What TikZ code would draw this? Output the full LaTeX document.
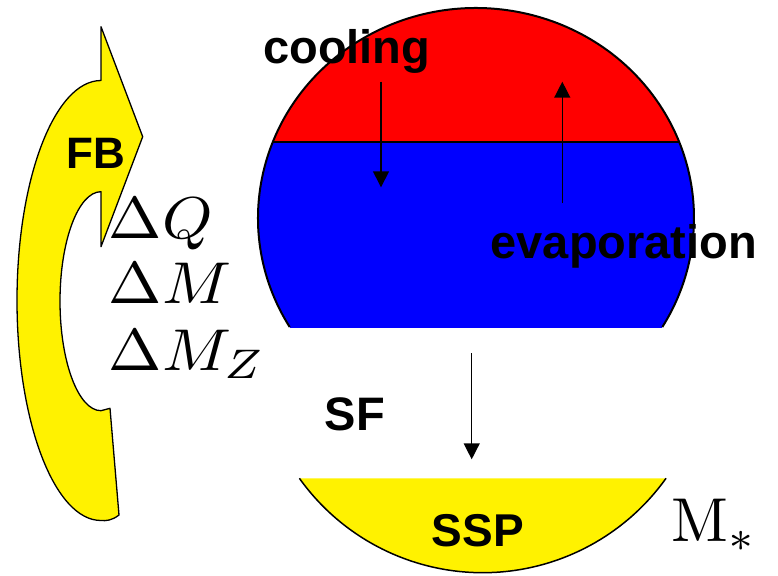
\documentclass[tikz,border=0pt]{standalone}
\usepackage{fontspec}
\usepackage{graphicx}
\newfontfamily\lsans{Liberation Sans}
\usetikzlibrary{arrows.meta}
\begin{document}
\begin{tikzpicture}[x=1pt,y=-1pt,
  lbl/.style={inner sep=0pt,anchor=base west,font=\lsans\bfseries\fontsize{47}{47}\selectfont},
  mathlbl/.style={inner sep=0pt,anchor=base west},
  flow/.style={line width=1.4pt,-{Triangle[width=16pt,length=16pt]}},
  outline/.style={line width=2pt}]
\useasboundingbox (0,0) rectangle (778,575);
% cloud: ellipse centre (476,218), rx 218, ry 210
\begin{scope}
  \clip (0,0) rectangle (778,141.7);
  \fill[red] (476,218) ellipse[x radius=218,y radius=210];
\end{scope}
\begin{scope}
  \clip (0,141.7) rectangle (778,327);
  \fill[blue] (476,218) ellipse[x radius=218,y radius=210];
\end{scope}
\draw[outline] (476,218) ++(148.73:218 and 210) arc[start angle=148.73,end angle=391.27,x radius=218,y radius=210];
\draw[outline] (272.9,141.7) -- (679.1,141.7);
% stellar population bowl
\fill[yellow] (482.7,347.5) ++(144.5:225.2) arc[start angle=144.5,end angle=35.5,radius=225.2] -- cycle;
\draw[line width=1.5pt] (482.7,347.5) ++(144.5:225.2) arc[start angle=144.5,end angle=35.5,radius=225.2];
% feedback arrow
\draw[fill=yellow,line width=1.3pt,line join=round]
  (101,26.7) -- (142.7,136.7) -- (101,246.7) -- (101,191.7)
  arc[start angle=270,end angle=90,x radius=41,y radius=109.5]
  -- (110,408.3) -- (119,515)
  .. controls (112,520.5) and (106,521) .. (101,520.5)
  arc[start angle=90,end angle=270,x radius=84,y radius=220]
  -- cycle;
% labels
\node[lbl] (cool) at (263,63.3) {cooling};
\node[lbl] (evap) at (490.5,258.3) {evaporation};
\node[lbl] (sf) at (324.5,430) {SF};
\node[lbl,font=\lsans\bfseries\fontsize{46}{46}\selectfont] (ssp) at (431.5,546) {SSP};
\node[lbl,font=\lsans\bfseries\fontsize{44}{44}\selectfont] (fb) at (66.7,168.3) {FB};
\node[mathlbl] (dq) at (108.5,238.3) {\scalebox{6.4}[5.9]{$\Delta Q$}};
\node[mathlbl] (dm) at (108.5,303.3) {\scalebox{6.4}[5.9]{$\Delta M$}};
\node[mathlbl] (dmz) at (108.5,370) {\scalebox{6.4}[5.9]{$\Delta M_Z$}};
\node[mathlbl] (mstar) at (671,541.7) {\scalebox{6.2}{M$_*$}};
% flows
\coordinate (c1) at (381,81.7);
\coordinate (c2) at (381,187.3);
\coordinate (e1) at (562.3,203.3);
\coordinate (e2) at (562.3,81.7);
\coordinate (s1) at (471.7,353.3);
\coordinate (s2) at (471.7,459.3);
\draw[flow] (c1) -- (c2);
\draw[flow] (e1) -- (e2);
\draw[flow] (s1) -- (s2);
\end{tikzpicture}
\end{document}
